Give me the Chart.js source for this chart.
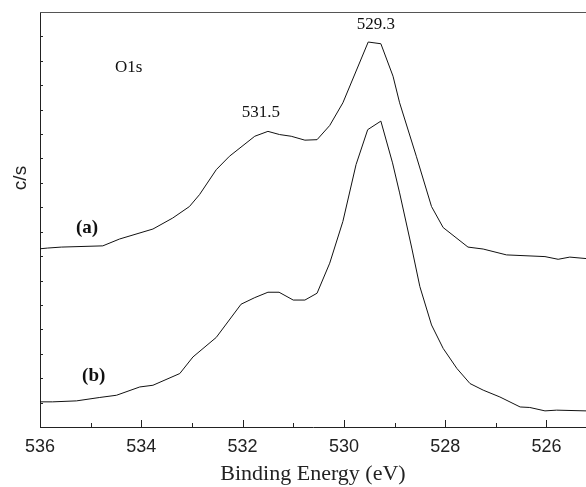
<!DOCTYPE html>
<html>
<head>
<meta charset="utf-8">
<script src="https://cdn.jsdelivr.net/npm/chart.js@4.4.1/dist/chart.umd.min.js"></script>
<style>
  html, body { margin: 0; padding: 0; background: #fff; }
  #wrap { width: 586px; height: 487px; position: relative; }
</style>
</head>
<body>
<div id="wrap"><canvas id="xps"></canvas></div>
<script>
// Binding energy (eV) and intensity (arbitrary c/s)
const energyA = [536.0, 535.85, 535.58, 534.76, 534.43, 533.77, 533.38, 533.05, 532.85, 532.52, 532.26, 531.76, 531.5, 531.27, 531.04, 530.77, 530.53, 530.28, 530.02, 529.52, 529.27, 529.03, 528.9, 528.57, 528.27, 528.04, 527.55, 527.25, 526.79, 526.03, 525.77, 525.54, 525.22];
const countsA = [7.30, 7.33, 7.37, 7.42, 7.70, 8.11, 8.56, 9.03, 9.52, 10.54, 11.09, 11.91, 12.11, 11.98, 11.91, 11.75, 11.77, 12.35, 13.28, 15.77, 15.70, 14.37, 13.28, 11.09, 9.03, 8.17, 7.37, 7.29, 7.05, 6.98, 6.87, 6.96, 6.90];

const energyB = [536.0, 535.75, 535.28, 534.82, 534.49, 534.03, 533.77, 533.24, 532.98, 532.52, 532.03, 531.76, 531.5, 531.28, 531.0, 530.77, 530.53, 530.28, 530.02, 529.76, 529.53, 529.27, 529.04, 528.9, 528.66, 528.5, 528.27, 528.04, 527.77, 527.51, 527.25, 526.92, 526.52, 526.33, 526.03, 525.8, 525.22];
const countsB = [1.03, 1.03, 1.07, 1.21, 1.30, 1.64, 1.71, 2.19, 2.87, 3.67, 5.03, 5.30, 5.52, 5.52, 5.20, 5.20, 5.48, 6.71, 8.42, 10.75, 12.18, 12.53, 10.82, 9.59, 7.33, 5.75, 4.18, 3.22, 2.40, 1.78, 1.51, 1.23, 0.82, 0.80, 0.66, 0.69, 0.66];

const xTicks = [536, 534, 532, 530, 528, 526];

// text labels placed in data coordinates
const notes = [
  { text: "529.3", x: 529.37, y: 16.5, font: "17px 'Liberation Serif'" },
  { text: "531.5", x: 531.64, y: 12.88, font: "17px 'Liberation Serif'" },
  { text: "O1s", x: 534.25, y: 14.73, font: "17px 'Liberation Serif'" },
  { text: "(a)", x: 535.07, y: 8.16, font: "bold 19px 'Liberation Serif'" },
  { text: "(b)", x: 534.94, y: 2.08, font: "bold 19px 'Liberation Serif'" },
];

const toPoints = (xs, ys) => xs.map((x, i) => ({ x: x, y: ys[i] }));

const framePlugin = {
  id: "frame",
  afterDraw(chart) {
    const { ctx, chartArea: a, scales } = chart;
    const sx = scales.x, sy = scales.y;
    ctx.save();
    ctx.lineWidth = 1;
    // top border
    ctx.strokeStyle = "#555";
    ctx.beginPath();
    ctx.moveTo(a.left, a.top + 0.5);
    ctx.lineTo(a.right, a.top + 0.5);
    ctx.stroke();
    // inward x ticks
    ctx.strokeStyle = "#222";
    ctx.beginPath();
    for (let v = 526; v <= 536; v++) {
      const px = Math.round(sx.getPixelForValue(v)) + 0.5;
      const len = v % 2 === 0 ? 7 : 4;
      ctx.moveTo(px, a.bottom);
      ctx.lineTo(px, a.bottom - len);
    }
    // inward y ticks
    for (let v = 1; v < 17; v++) {
      const py = Math.round(sy.getPixelForValue(v)) + 0.5;
      ctx.moveTo(a.left, py);
      ctx.lineTo(a.left + 3, py);
    }
    ctx.stroke();
    // notes
    ctx.fillStyle = "#111";
    ctx.textAlign = "center";
    ctx.textBaseline = "middle";
    notes.forEach(n => {
      ctx.font = n.font;
      ctx.fillText(n.text, sx.getPixelForValue(n.x), sy.getPixelForValue(n.y));
    });
    // y axis title
    ctx.save();
    ctx.translate(21, 178);
    ctx.rotate(-Math.PI / 2);
    ctx.font = "19px 'Liberation Sans'";
    ctx.fillStyle = "#222";
    ctx.fillText("c/s", 0, 0);
    ctx.restore();
    ctx.restore();
  }
};

new Chart(document.getElementById("xps").getContext("2d"), {
  type: "line",
  data: {
    datasets: [
      {
        label: "(a)",
        data: toPoints(energyA, countsA),
        borderColor: "#111",
        borderWidth: 1,
        pointRadius: 0,
        tension: 0,
        fill: false,
      },
      {
        label: "(b)",
        data: toPoints(energyB, countsB),
        borderColor: "#111",
        borderWidth: 1,
        pointRadius: 0,
        tension: 0,
        fill: false,
      },
    ],
  },
  options: {
    responsive: true,
    maintainAspectRatio: false,
    animation: false,
    layout: { padding: { top: 12, right: 0, left: 0, bottom: 0 } },
    plugins: {
      legend: { display: false },
      tooltip: { enabled: false },
    },
    scales: {
      x: {
        type: "linear",
        reverse: true,
        min: 525.22,
        max: 536,
        afterBuildTicks: (s) => { s.ticks = xTicks.map(v => ({ value: v })); },
        afterFit: (s) => { s.height = 60; },
        grid: { display: false, drawTicks: false },
        border: { color: "#222", width: 1 },
        ticks: {
          color: "#222",
          padding: 9,
          maxRotation: 0,
          font: { family: "'Liberation Sans'", size: 18 },
        },
        title: {
          display: true,
          text: "Binding Energy (eV)",
          color: "#222",
          padding: { top: 0, bottom: 0 },
          font: { family: "'Liberation Serif'", size: 22 },
        },
      },
      y: {
        min: 0,
        max: 17,
        afterFit: (s) => { s.width = 40; },
        grid: { display: false, drawTicks: false },
        border: { color: "#222", width: 1 },
        ticks: { display: false },
        title: { display: false },
      },
    },
  },
  plugins: [framePlugin],
});
</script>
</body>
</html>
